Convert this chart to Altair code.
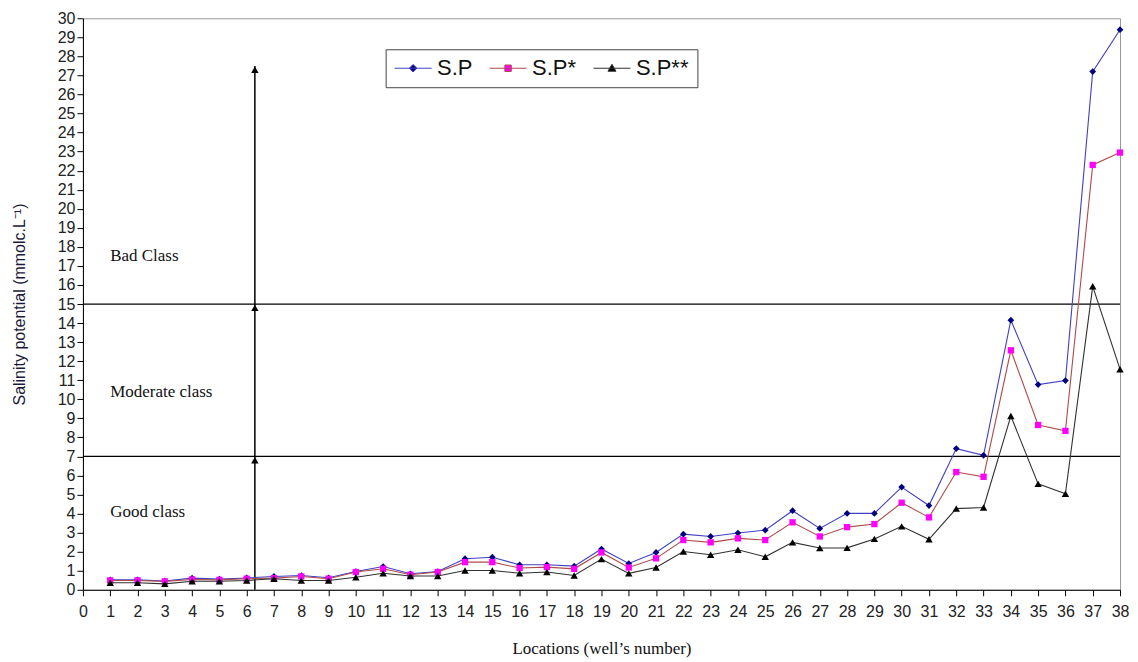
import altair as alt
import pandas as pd

wells = list(range(1, 39))
sp = [0.52, 0.52, 0.46, 0.61, 0.56, 0.62, 0.70, 0.75, 0.63, 0.96,
      1.22, 0.84, 0.96, 1.63, 1.71, 1.31, 1.31, 1.24, 2.14, 1.38,
      1.96, 2.92, 2.80, 2.98, 3.13, 4.15, 3.22, 4.01, 4.01, 5.39,
      4.42, 7.41, 7.06, 14.15, 10.77, 10.98, 27.2, 29.4]
sp_star = [0.49, 0.49, 0.44, 0.54, 0.52, 0.58, 0.61, 0.70, 0.58, 0.93,
           1.10, 0.79, 0.93, 1.45, 1.45, 1.14, 1.19, 1.10, 1.96, 1.17,
           1.65, 2.61, 2.49, 2.70, 2.61, 3.54, 2.80, 3.29, 3.45, 4.57,
           3.80, 6.18, 5.93, 12.57, 8.65, 8.34, 22.3, 22.95]
sp_2star = [0.37, 0.37, 0.31, 0.45, 0.45, 0.49, 0.58, 0.49, 0.49, 0.66,
            0.87, 0.72, 0.72, 1.01, 1.01, 0.87, 0.93, 0.75, 1.61, 0.86,
            1.17, 2.01, 1.84, 2.10, 1.73, 2.49, 2.19, 2.20, 2.67, 3.33,
            2.65, 4.26, 4.32, 9.12, 5.56, 5.04, 15.93, 11.58]

series_names = ["S.P", "S.P*", "S.P**"]
series_values = [sp, sp_star, sp_2star]
line_colors = ["#4040c0", "#b04a4a", "#303030"]
marker_colors = ["#000080", "#ff00ff", "#000000"]
marker_shapes = ["diamond", "square", "triangle-up"]
marker_sizes = [45, 40, 55]
legend_paths = [
    "M-1.85,0L1.85,0M0,-0.38L0.38,0L0,0.38L-0.38,0Z",
    "M-1.85,0L1.85,0M-0.32,-0.32L0.32,-0.32L0.32,0.32L-0.32,0.32Z",
    "M-1.85,0L1.85,0M0,-0.4L0.4,0.3L-0.4,0.3Z",
]

class_labels = ["Bad Class", "Moderate class", "Good class"]
class_label_x = [1.0, 1.0, 1.0]
class_label_y = [17.5, 10.4, 4.1]
boundaries = [15, 7]
arrow_x = 6.3
arrow_bottom = 0
arrow_top = 27.5
arrow_heads = [27.3, 14.8, 6.8]

x_ticks = list(range(0, 39))
y_ticks = list(range(0, 31))

rows = []
for name, vals in zip(series_names, series_values):
    for w, v in zip(wells, vals):
        rows.append({"well": w, "value": v, "series": name})
df = pd.DataFrame(rows)

x_axis = alt.Axis(values=x_ticks, title="Locations (well\u2019s number)", grid=False,
                  labelFlush=False, labelOverlap=False, labelPadding=8, titlePadding=21,
                  titleFont="Liberation Serif", titleFontSize=17,
                  titleFontWeight="normal", titleColor="#111")
y_axis = alt.Axis(values=y_ticks, title="Salinity potential (mmolc.L\u207b\u00b9)", grid=False,
                  labelOverlap=False, labelPadding=2, titlePadding=30,
                  titleFont="Liberation Sans", titleFontSize=16,
                  titleFontWeight="normal", titleColor="#1a1a3a")
x_scale = alt.Scale(domain=[0, 38], nice=False, zero=False)
y_scale = alt.Scale(domain=[0, 30], nice=False)


def X(field):
    return alt.X(field, scale=x_scale, axis=x_axis)


def Y(field):
    return alt.Y(field, scale=y_scale, axis=y_axis)


layers = []

# class boundaries
bdf = pd.DataFrame({"b": boundaries})
layers.append(alt.Chart(bdf).mark_rule(color="black", strokeWidth=1.2).encode(y=Y("b:Q")))

# arrow
adf = pd.DataFrame({"x": [arrow_x], "y": [arrow_bottom], "y2": [arrow_top]})
layers.append(alt.Chart(adf).mark_rule(color="black", strokeWidth=1.5).encode(
    x=X("x:Q"), y=Y("y:Q"), y2="y2:Q"))
hdf = pd.DataFrame({"x": [arrow_x] * len(arrow_heads), "y": arrow_heads})
layers.append(alt.Chart(hdf).mark_point(shape="triangle-up", filled=True, color="black",
                                        size=55, opacity=1).encode(x=X("x:Q"), y=Y("y:Q")))

# class labels
tdf = pd.DataFrame({"x": class_label_x, "y": class_label_y, "t": class_labels})
layers.append(alt.Chart(tdf).mark_text(align="left", baseline="middle", font="Liberation Serif",
                                       fontSize=17, color="#111").encode(
    x=X("x:Q"), y=Y("y:Q"), text="t:N"))

# series
for i, name in enumerate(series_names):
    sdf = df[df["series"] == name]
    layers.append(alt.Chart(sdf).mark_line(color=line_colors[i], strokeWidth=1.1).encode(
        x=X("well:Q"), y=Y("value:Q")))
    layers.append(alt.Chart(sdf).mark_point(shape=marker_shapes[i], filled=True,
                                            color=marker_colors[i], size=marker_sizes[i],
                                            opacity=1).encode(x=X("well:Q"), y=Y("value:Q")))

# legend-only layer
legend = alt.Legend(title=None, orient="none", legendX=303, legendY=31, direction="horizontal",
                    labelFont="Liberation Sans", labelFontSize=22, labelColor="#111",
                    symbolSize=400, symbolStrokeWidth=1, symbolOffset=8.5, labelOffset=13,
                    columnPadding=15, padding=8, strokeColor="#444", fillColor="white")
legend_layer = alt.Chart(df).transform_filter("false").mark_point(filled=True, opacity=1).encode(
    shape=alt.Shape("series:N", scale=alt.Scale(domain=series_names, range=legend_paths), legend=legend),
    fill=alt.Fill("series:N", scale=alt.Scale(domain=series_names, range=marker_colors), legend=legend),
    stroke=alt.Stroke("series:N", scale=alt.Scale(domain=series_names, range=line_colors), legend=legend),
)
layers.append(legend_layer)

chart = alt.layer(*layers).properties(
    width=1038, height=572, background="white",
    padding={"left": 3, "top": 2, "right": 1, "bottom": 2},
).configure_view(
    stroke="#999", strokeWidth=1
).configure_axis(
    grid=False, domainColor="black", tickColor="black", tickSize=6,
    labelFont="Liberation Sans", labelFontSize=16, labelColor="#222",
)

chart.save("out.html", embed_options={"renderer": "svg", "actions": False})
